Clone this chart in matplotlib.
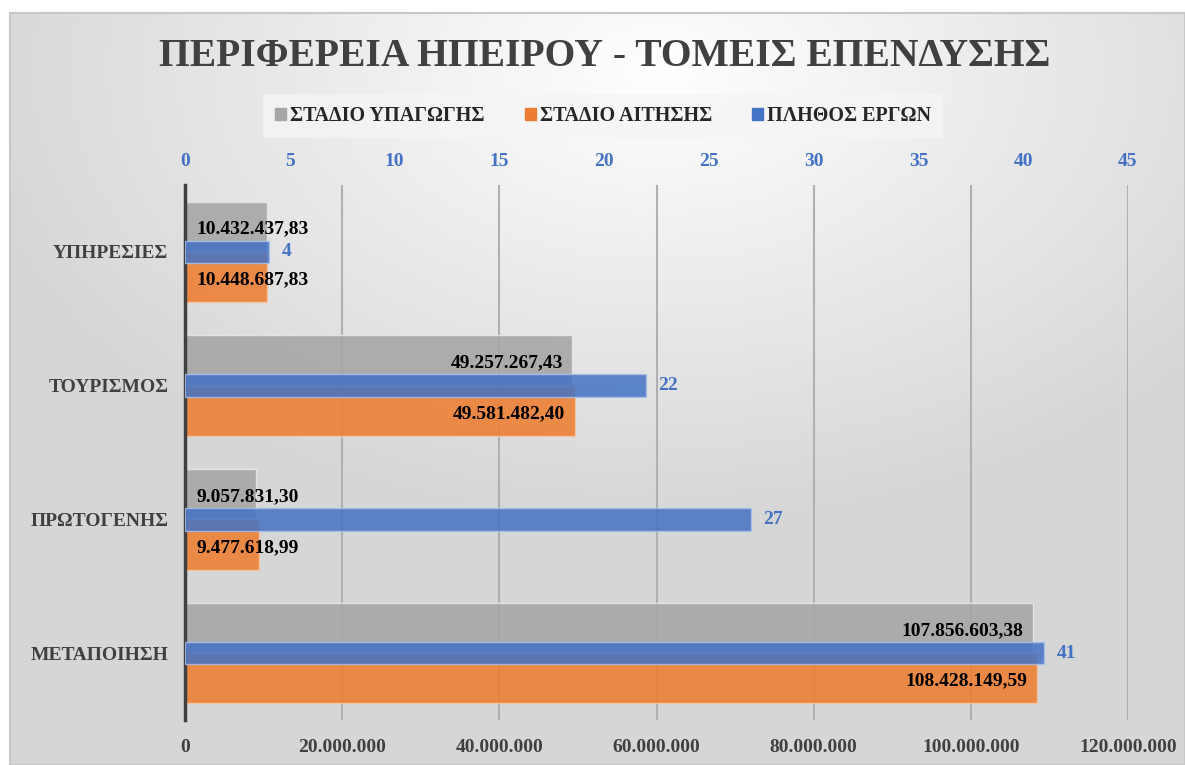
import numpy as np
import matplotlib.pyplot as plt

# sectors, bottom to top (Excel order)
sectors = ['ΜΕΤΑΠΟΙΗΣΗ', 'ΠΡΩΤΟΓΕΝΗΣ', 'ΤΟΥΡΙΣΜΟΣ', 'ΥΠΗΡΕΣΙΕΣ']
stadio_ypagogis = [107856603.38, 9057831.30, 49257267.43, 10432437.83]
stadio_aitisis = [108428149.59, 9477618.99, 49581482.40, 10448687.83]
plithos_ergon = [41, 27, 22, 4]

series_names = ['ΣΤΑΔΙΟ ΥΠΑΓΩΓΗΣ', 'ΣΤΑΔΙΟ ΑΙΤΗΣΗΣ', 'ΠΛΗΘΟΣ ΕΡΓΩΝ']
title = 'ΠΕΡΙΦΕΡΕΙΑ ΗΠΕΙΡΟΥ - ΤΟΜΕΙΣ ΕΠΕΝΔΥΣΗΣ'

grey = '#A5A5A5'
orange = '#ED7D31'
blue = '#4472C4'
dark = '#404040'

plt.rcParams['font.family'] = ['Liberation Serif', 'DejaVu Serif']
plt.rcParams['font.weight'] = 'bold'


def gr_fmt(v, dec=0):
    s = f'{v:,.{dec}f}'
    return s.replace(',', 'X').replace('.', ',').replace('X', '.')


fig = plt.figure(figsize=(11.85, 7.65), dpi=100)
fig.patch.set_facecolor('white')

#%% background (radial gradient chart area)
bg = fig.add_axes([10 / 1185, 0, 1 - 10 / 1185, 1 - 13 / 765], zorder=-5)
yy, xx = np.mgrid[0:200, 0:300]
d = np.sqrt(((xx - 165) / 300) ** 2 + ((yy - 15) / 200) ** 2)
shade = np.clip(1.0 - 0.2 * d / 0.75, 0.84, 1.0)
bg.imshow(np.dstack([shade] * 3), aspect='auto', extent=[0, 1, 0, 1], origin='upper')
bg.set_xticks([])
bg.set_yticks([])
for s in bg.spines.values():
    s.set_color('#c8c8c8')
    s.set_linewidth(1.5)

#%% main axes
ax = fig.add_axes([185 / 1185, 1 - 720 / 765, 943 / 1185, 535 / 765])
ax.patch.set_alpha(0)
y = np.arange(len(sectors))
h = 0.375

ax.barh(y + h / 2, stadio_ypagogis, height=h, color=grey, alpha=0.88,
        edgecolor='#e8e8e8', linewidth=1, zorder=2)
ax.barh(y - h / 2, stadio_aitisis, height=h, color=orange, alpha=0.88,
        edgecolor='#f6c8a8', linewidth=1, zorder=2)

ax.set_xlim(0, 120000000)
ax.set_ylim(-0.5, len(sectors) - 0.5)
ax.set_xticks(np.arange(0, 120000001, 20000000))
ax.set_xticklabels([gr_fmt(v) for v in np.arange(0, 120000001, 20000000)])
ax.set_yticks(y)
ax.set_yticklabels(sectors)
ax.tick_params(axis='x', length=0, labelsize=14, labelcolor=dark, pad=14)
ax.tick_params(axis='y', length=0, labelsize=14, labelcolor=dark, pad=12)
ax.grid(axis='x', color='#b0b0b0', linewidth=1.5, zorder=0)
ax.set_axisbelow(True)
for s in ['top', 'right', 'bottom']:
    ax.spines[s].set_visible(False)
ax.spines['left'].set_color(dark)
ax.spines['left'].set_linewidth(2.5)
ax.spines['left'].set_zorder(5)

#%% secondary axis (number of projects)
ax2 = ax.twiny()
ax2.patch.set_alpha(0)
ax2.barh(y, plithos_ergon, height=0.17, color=blue, alpha=0.85,
         edgecolor='#a9c0ea', linewidth=1, zorder=3)
ax2.set_xlim(0, 45)
ax2.set_xticks(np.arange(0, 46, 5))
ax2.tick_params(axis='x', length=0, labelsize=14, labelcolor=blue, pad=11)
for s in ax2.spines.values():
    s.set_visible(False)
for yi, v in zip(y, plithos_ergon):
    ax2.text(v + 0.6, yi, str(v), ha='left', va='center', fontsize=14, color=blue, zorder=6)

# value labels of the amount series, drawn on top of the blue bars
for vals, dy in [(stadio_ypagogis, 0.17), (stadio_aitisis, -0.21)]:
    for yi, v in zip(y, vals):
        if v > 20000000:
            ax2.text(v - 1200000, yi + dy, gr_fmt(v, 2), ha='right', va='center',
                     fontsize=14, color='black', zorder=6, transform=ax.transData)
        else:
            ax2.text(1500000, yi + dy, gr_fmt(v, 2), ha='left', va='center',
                     fontsize=14, color='black', zorder=6, transform=ax.transData)

#%% legend and title
handles = [plt.Rectangle((0, 0), 1, 1, color=c) for c in [grey, orange, blue]]
leg = fig.legend(handles, series_names, loc='center', bbox_to_anchor=(603 / 1185, 1 - 116 / 765),
                 ncol=3, frameon=True, fontsize=14.5, handlelength=0.55, handleheight=0.55,
                 handletextpad=0.2, columnspacing=2.0, borderpad=0.6)
leg.get_frame().set_facecolor('#f5f5f5')
leg.get_frame().set_edgecolor('none')
leg.get_frame().set_alpha(0.8)
for t in leg.get_texts():
    t.set_color('#262626')

fig.text(605 / 1185, 1 - 56 / 765, title, ha='center', va='center',
         fontsize=28.5, fontweight='bold', color=dark)

fig.savefig('out.png', dpi=100)
